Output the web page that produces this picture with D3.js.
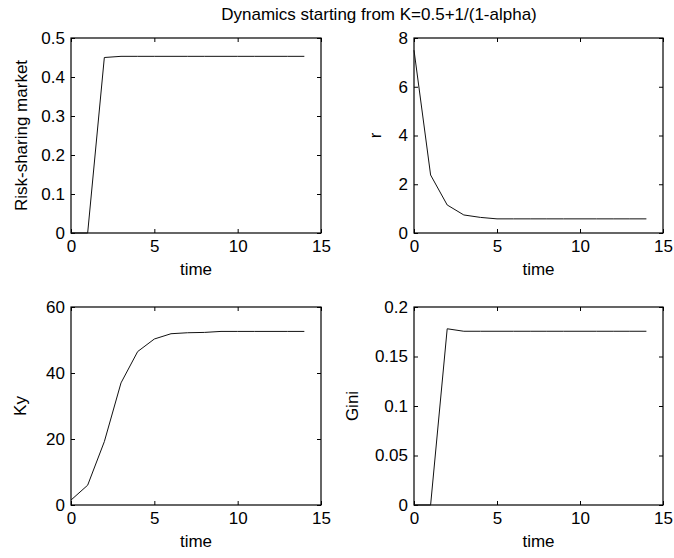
<!DOCTYPE html>
<html>
<head>
<meta charset="utf-8">
<script src="https://cdn.jsdelivr.net/npm/d3@7"></script>
<style>
  body { margin: 0; background: #fff; }
  svg text { font-family: "Liberation Sans", Arial, sans-serif; fill: #000; }
</style>
</head>
<body>
<div id="chart"></div>
<script>
// data
var time = [0, 1, 2, 3, 4, 5, 6, 7, 8, 9, 10, 11, 12, 13, 14]
var riskSharing = [0, 0, 0.450, 0.453, 0.453, 0.453, 0.453, 0.453, 0.453, 0.453, 0.453, 0.453, 0.453, 0.453, 0.453]
var rate = [7.5, 2.38, 1.15, 0.74, 0.64, 0.58, 0.58, 0.58, 0.58, 0.58, 0.58, 0.58, 0.58, 0.58, 0.58]
var ky = [1.5, 6.0, 19.2, 37.0, 46.5, 50.3, 51.9, 52.2, 52.3, 52.6, 52.6, 52.6, 52.6, 52.6, 52.6]
var gini = [0, 0, 0.178, 0.1755, 0.1755, 0.1755, 0.1755, 0.1755, 0.1755, 0.1755, 0.1755, 0.1755, 0.1755, 0.1755, 0.1755]

var xTicks = [0, 5, 10, 15]
var riskTicks = [0, 0.1, 0.2, 0.3, 0.4, 0.5]
var rateTicks = [0, 2, 4, 6, 8]
var kyTicks = [0, 20, 40, 60]
var giniTicks = [0, 0.05, 0.1, 0.15, 0.2]

var title = "Dynamics starting from K=0.5+1/(1-alpha)"
var xLabel = "time"

var width = 674, height = 558;

var svg = d3.select("#chart")
  .append("svg")
    .attr("width", width)
    .attr("height", height);

var panels = [
  {values: riskSharing, ticks: riskTicks, label: "Risk-sharing market", box: [71, 321, 38, 233], labelX: 27},
  {values: rate, ticks: rateTicks, label: "r", box: [414, 663, 38, 233], labelX: 381},
  {values: ky, ticks: kyTicks, label: "Ky", box: [71, 321, 307, 505], labelX: 26},
  {values: gini, ticks: giniTicks, label: "Gini", box: [414, 663, 307, 505], labelX: 358}
];

var fontSize = 17;

panels.forEach(function(p) {
  var x = d3.scaleLinear().domain([0, 15]).range([p.box[0], p.box[1]]);
  var y = d3.scaleLinear().domain([p.ticks[0], p.ticks[p.ticks.length - 1]]).range([p.box[3], p.box[2]]);
  var g = svg.append("g");

  // bottom + left axes with labels, ticks pointing inward
  var bottom = g.append("g")
    .attr("transform", "translate(0," + p.box[3] + ")")
    .call(d3.axisBottom(x).tickValues(xTicks).tickSizeInner(-4).tickSizeOuter(0).tickPadding(7).tickFormat(function(d) { return String(d) }));
  var left = g.append("g")
    .attr("transform", "translate(" + p.box[0] + ",0)")
    .call(d3.axisLeft(y).tickValues(p.ticks).tickSizeInner(-4).tickSizeOuter(0).tickPadding(6).tickFormat(function(d) { return String(d) }));
  // top + right axes: ticks only
  var top = g.append("g")
    .attr("transform", "translate(0," + p.box[2] + ")")
    .call(d3.axisTop(x).tickValues(xTicks).tickSizeInner(-4).tickSizeOuter(0).tickFormat(""));
  var right = g.append("g")
    .attr("transform", "translate(" + p.box[1] + ",0)")
    .call(d3.axisRight(y).tickValues(p.ticks).tickSizeInner(-4).tickSizeOuter(0).tickFormat(""));

  [bottom, left, top, right].forEach(function(a) {
    a.select(".domain").remove();
    a.selectAll("line").attr("stroke", "#000");
    a.selectAll("text").attr("font-size", fontSize).attr("font-family", "Liberation Sans, Arial, sans-serif").attr("fill", "#000");
  });

  g.append("rect")
    .attr("x", p.box[0])
    .attr("y", p.box[2])
    .attr("width", p.box[1] - p.box[0])
    .attr("height", p.box[3] - p.box[2])
    .attr("fill", "none")
    .attr("stroke", "#000")
    .attr("stroke-width", 1.2);

  g.append("path")
    .datum(time.map(function(t, i) { return {t: t, v: p.values[i]} }))
    .attr("fill", "none")
    .attr("stroke", "#111")
    .attr("stroke-width", 1)
    .attr("d", d3.line()
      .x(function(d) { return x(d.t) })
      .y(function(d) { return y(d.v) }));

  g.append("text")
    .attr("x", (p.box[0] + p.box[1]) / 2)
    .attr("y", p.box[3] + 42)
    .attr("text-anchor", "middle")
    .attr("font-size", fontSize)
    .text(xLabel);

  g.append("text")
    .attr("transform", "translate(" + p.labelX + "," + (p.box[2] + p.box[3]) / 2 + ") rotate(-90)")
    .attr("text-anchor", "middle")
    .attr("font-size", fontSize)
    .text(p.label);
});

svg.append("text")
  .attr("x", 379)
  .attr("y", 20)
  .attr("text-anchor", "middle")
  .attr("font-size", 17)
  .text(title);
</script>
</body>
</html>
